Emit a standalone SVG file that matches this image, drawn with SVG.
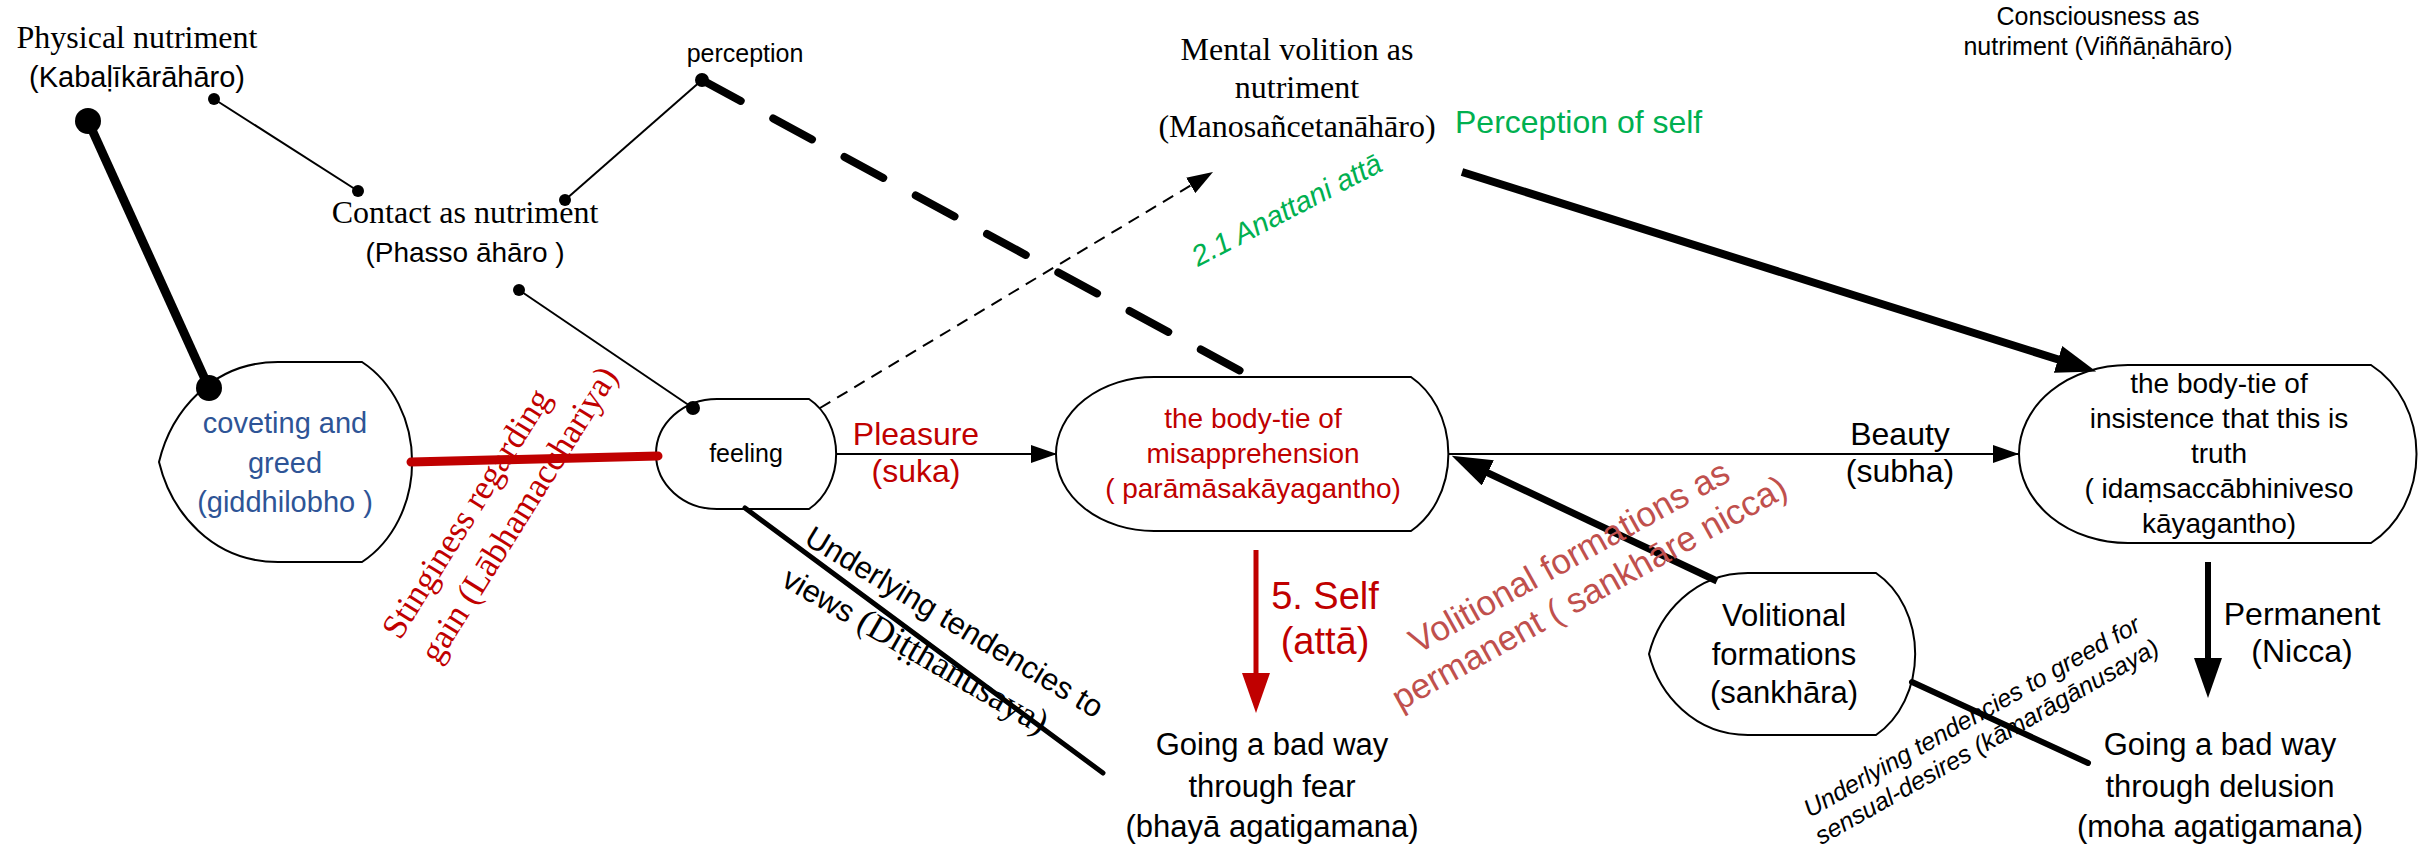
<svg xmlns="http://www.w3.org/2000/svg" width="2428" height="850" viewBox="0 0 2428 850">
<style>
text{text-anchor:middle}
.serif{font-family:"Liberation Serif","Times New Roman",serif}
.sans{font-family:"Liberation Sans",Arial,sans-serif}
.shape{fill:#fff;stroke:#000;stroke-width:2}
.thin{stroke:#000;stroke-width:2;fill:none}
.red{fill:#C00000}
.green{fill:#00B050}
.blue{fill:#2E5496}
.lred{fill:#C0504D}
.dot{fill:#000}
</style>
<defs>
<marker id="ahs" markerUnits="userSpaceOnUse" markerWidth="26" markerHeight="18" viewBox="0 0 26 18" refX="26" refY="9" orient="auto"><path d="M0,0 L26,9 L0,18 Z" fill="#000"/></marker>
<marker id="ahl" markerUnits="userSpaceOnUse" markerWidth="40" markerHeight="28" viewBox="0 0 40 28" refX="22" refY="14" orient="auto"><path d="M0,0 L40,14 L0,28 Z" fill="#000"/></marker>
<marker id="ahr" markerUnits="userSpaceOnUse" markerWidth="40" markerHeight="28" viewBox="0 0 40 28" refX="22" refY="14" orient="auto"><path d="M0,0 L40,14 L0,28 Z" fill="#C00000"/></marker>
</defs>

<g id="n-physical">
<text class="serif" x="137" y="48" font-size="32">Physical nutriment</text>
<text class="sans" x="137" y="87" font-size="29">(Kabaḷīkārāhāro)</text>
</g>
<g id="n-contact">
<text class="serif" x="465" y="223" font-size="32">Contact as nutriment</text>
<text class="sans" x="465" y="262" font-size="28">(Phasso āhāro )</text>
</g>
<g id="n-perception">
<text class="sans" x="745" y="62" font-size="25">perception</text>
</g>
<g id="n-mental">
<text class="serif" x="1297" y="60" font-size="32">Mental volition as</text>
<text class="serif" x="1297" y="98" font-size="32">nutriment</text>
<text class="serif" x="1297" y="137" font-size="32">(Manosañcetanāhāro)</text>
</g>
<g id="n-consciousness">
<text class="sans" x="2098" y="25" font-size="25">Consciousness as</text>
<text class="sans" x="2098" y="55" font-size="25">nutriment (Viññāṇāhāro)</text>
</g>
<g id="n-coveting">
<path class="shape" d="M278,362 L362,362 A99,115 0 0 1 362,562 L278,562 C212,562 171,512 159,462 C171,412 212,362 278,362 Z"/>
<text class="sans blue" x="285" y="433" font-size="29">coveting and</text>
<text class="sans blue" x="285" y="473" font-size="29">greed</text>
<text class="sans blue" x="285" y="512" font-size="29">(giddhilobho )</text>
</g>
<g id="n-feeling">
<path class="shape" d="M717,399 L809,399 A53,63 0 0 1 809,509 L717,509 A61,55 0 0 1 717,399 Z"/>
<text class="sans" x="746" y="462" font-size="25">feeling</text>
</g>
<g id="n-misapprehension">
<path class="shape" d="M1154,377 L1411,377 A75,89 0 0 1 1411,531 L1154,531 A98,77 0 0 1 1154,377 Z"/>
<text class="sans red" x="1253" y="428" font-size="28">the body-tie of</text>
<text class="sans red" x="1253" y="463" font-size="28">misapprehension</text>
<text class="sans red" x="1253" y="498" font-size="28">( parāmāsakāyagantho)</text>
</g>
<g id="n-truth">
<path class="shape" d="M2128,365 L2371,365 A89,102 0 0 1 2371,543 L2128,543 A109,89 0 0 1 2128,365 Z"/>
<text class="sans" x="2219" y="393" font-size="28">the body-tie of</text>
<text class="sans" x="2219" y="428" font-size="28">insistence that this is</text>
<text class="sans" x="2219" y="463" font-size="28">truth</text>
<text class="sans" x="2219" y="498" font-size="28">( idaṃsaccābhiniveso</text>
<text class="sans" x="2219" y="533" font-size="28">kāyagantho)</text>
</g>
<g id="n-volitional">
<path class="shape" d="M1748,573 L1876,573 A77,93 0 0 1 1876,735 L1748,735 C1694,735 1659,694 1649,654 C1659,614 1694,573 1748,573 Z"/>
<text class="sans" x="1784" y="626" font-size="31">Volitional</text>
<text class="sans" x="1784" y="665" font-size="31">formations</text>
<text class="sans" x="1784" y="703" font-size="31">(sankhāra)</text>
</g>
<g id="n-fear">
<text class="sans" x="1272" y="755" font-size="31">Going a bad way</text>
<text class="sans" x="1272" y="797" font-size="31">through fear</text>
<text class="sans" x="1272" y="837" font-size="31">(bhayā agatigamana)</text>
</g>
<g id="n-delusion">
<text class="sans" x="2220" y="755" font-size="31">Going a bad way</text>
<text class="sans" x="2220" y="797" font-size="31">through delusion</text>
<text class="sans" x="2220" y="837" font-size="31">(moha agatigamana)</text>
</g>

<g id="connectors">
<line x1="88" y1="121" x2="209" y2="388" stroke="#000" stroke-width="9"/>
<circle class="dot" cx="88" cy="121" r="13"/>
<circle class="dot" cx="209" cy="388" r="13"/>
<line class="thin" x1="214" y1="99" x2="358" y2="191"/>
<circle class="dot" cx="214" cy="99" r="6"/>
<circle class="dot" cx="358" cy="191" r="6"/>
<line class="thin" x1="519" y1="290" x2="693" y2="408"/>
<circle class="dot" cx="519" cy="290" r="6"/>
<circle class="dot" cx="693" cy="408" r="7"/>
<line class="thin" x1="565" y1="200" x2="702" y2="80"/>
<circle class="dot" cx="565" cy="200" r="6"/>
<circle class="dot" cx="702" cy="80" r="7"/>
<line x1="702" y1="80" x2="1248" y2="375" stroke="#000" stroke-width="8" stroke-linecap="round" stroke-dasharray="44 37"/>
<line x1="411" y1="462" x2="658" y2="456" stroke="#C00000" stroke-width="9" stroke-linecap="round"/>
<line class="thin" x1="820" y1="408" x2="1213" y2="172" stroke-dasharray="12 8" marker-end="url(#ahs)"/>
<line class="thin" x1="836" y1="454" x2="1057" y2="454" marker-end="url(#ahs)"/>
<line class="thin" x1="1449" y1="454" x2="2019" y2="454" marker-end="url(#ahs)"/>
<line x1="1462" y1="172" x2="2079" y2="366" stroke="#000" stroke-width="8" marker-end="url(#ahl)"/>
<line x1="1717" y1="581" x2="1468" y2="463.5" stroke="#000" stroke-width="7" marker-end="url(#ahl)"/>
<line x1="1256" y1="550" x2="1256" y2="695" stroke="#C00000" stroke-width="5" marker-end="url(#ahr)"/>
<line x1="2208" y1="562" x2="2208" y2="680" stroke="#000" stroke-width="6" marker-end="url(#ahl)"/>
<line x1="745" y1="508" x2="1103" y2="773" stroke="#000" stroke-width="5" stroke-linecap="round"/>
<line x1="1912" y1="682" x2="2088" y2="763" stroke="#000" stroke-width="6" stroke-linecap="round"/>
</g>

<g id="labels">
<text class="sans red" x="916" y="445" font-size="32">Pleasure</text>
<text class="sans red" x="916" y="482" font-size="32">(suka)</text>
<text class="sans" x="1900" y="445" font-size="32">Beauty</text>
<text class="sans" x="1900" y="482" font-size="32">(subha)</text>
<text class="sans red" x="1325" y="609" font-size="38">5. Self</text>
<text class="sans red" x="1325" y="654" font-size="38">(attā)</text>
<text class="sans" x="2302" y="625" font-size="32">Permanent</text>
<text class="sans" x="2302" y="662" font-size="32">(Nicca)</text>
<text class="sans green" x="1455" y="133" font-size="32" style="text-anchor:start">Perception of self</text>
<text class="sans green" x="1198" y="267" font-size="29" font-style="italic" style="text-anchor:start" transform="rotate(-27.5 1198 267)">2.1 Anattani attā</text>
<text class="serif red" x="400" y="641" font-size="35" style="text-anchor:start" transform="rotate(-58 400 641)">Stinginess regarding</text>
<text class="serif red" x="438" y="665" font-size="35" style="text-anchor:start" transform="rotate(-58 438 665)">gain (Lābhamacchariya)</text>
<text class="sans" x="949" y="631" font-size="31" transform="rotate(31 949 631)">Underlying tendencies to</text>
<text x="910" y="660" transform="rotate(30 910 660)"><tspan class="sans" font-size="31">views </tspan><tspan class="serif" font-size="36">(Diṭṭhānusaya)</tspan></text>
<text class="sans lred" x="1575" y="567" font-size="35" transform="rotate(-29 1575 567)">Volitional formations as</text>
<text class="sans lred" x="1595" y="603" font-size="35" transform="rotate(-29 1595 603)">permanent ( sankhāre nicca)</text>
<text class="sans" x="1976" y="724" font-size="25" font-style="italic" transform="rotate(-29.5 1976 724)">Underlying tendencies to greed for</text>
<text class="sans" x="1991" y="749" font-size="25" font-style="italic" transform="rotate(-29.5 1991 749)">sensual-desires (kāmarāgānusaya)</text>
</g>
</svg>
